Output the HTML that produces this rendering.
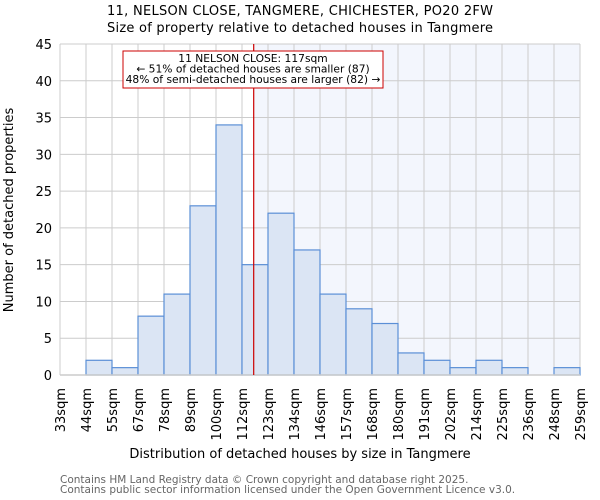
<!DOCTYPE html>
<html><head><meta charset="utf-8"><style>body{margin:0;background:#fff}svg{display:block;font-family:"DejaVu Sans","Liberation Sans",sans-serif}</style></head>
<body>
<svg id="c" width="600" height="500" xmlns="http://www.w3.org/2000/svg">
<text x="300" y="15" text-anchor="middle" font-size="13" textLength="386">11, NELSON CLOSE, TANGMERE, CHICHESTER, PO20 2FW</text>
<text x="300" y="32" text-anchor="middle" font-size="13" textLength="386">Size of property relative to detached houses in Tangmere</text>
<text x="300" y="458" text-anchor="middle" font-size="13">Distribution of detached houses by size in Tangmere</text>
<text transform="translate(13,210) rotate(-90)" text-anchor="middle" font-size="13">Number of detached properties</text>
<text x="60" y="483" font-size="10.5" fill="#666">Contains HM Land Registry data © Crown copyright and database right 2025.</text>
<text x="60" y="493" font-size="10.5" fill="#666">Contains public sector information licensed under the Open Government Licence v3.0.</text>
<g id="plot"></g>
</svg>
<script>
const binLabels=["33sqm","44sqm","55sqm","67sqm","78sqm","89sqm","100sqm","112sqm","123sqm","134sqm","146sqm","157sqm","168sqm","180sqm","191sqm","202sqm","214sqm","225sqm","236sqm","248sqm","259sqm"];
const counts=[0,2,1,8,11,23,34,15,22,17,11,9,7,3,2,1,2,1,0,1];
const yTicks=[0,5,10,15,20,25,30,35,40,45];
const propertyIndex=7.45;
const NS="http://www.w3.org/2000/svg";
const L=60,R=580,T=44,B=375,yMax=45;
const bw=(R-L)/counts.length;
const xs=i=>L+i*bw;
const ys=v=>B-(v/yMax)*(B-T);
const g=document.getElementById('plot');
function mk(t,a){const e=document.createElementNS(NS,t);for(const k in a)e.setAttribute(k,a[k]);g.appendChild(e);return e;}
const px=xs(propertyIndex);
let e=mk('rect',{x:px,y:T,width:R-px,height:B-T,fill:'#f3f6fd'});


yTicks.forEach(v=>{let l=mk('line',{x1:L,x2:R,y1:ys(v),y2:ys(v),stroke:'#ccc'});


let t=mk('text',{x:L-8,y:ys(v)+5,'text-anchor':'end','font-size':13});t.textContent=v;

});
binLabels.forEach((s,i)=>{let l=mk('line',{x1:xs(i),x2:xs(i),y1:T,y2:B,stroke:'#ccc'});


let t=mk('text',{transform:`translate(${xs(i)+5},388) rotate(-90)`,'text-anchor':'end','font-size':13});t.textContent=s;

});
counts.forEach((v,i)=>{if(v<=0)return;let r=mk('rect',{x:xs(i),y:ys(v),width:bw,height:B-ys(v),fill:'#dbe5f4',stroke:'#5b8fd6','stroke-width':1.2});

});
e=mk('line',{x1:L,x2:R,y1:B,y2:B,stroke:'#ccc','stroke-width':1.5});


e=mk('line',{x1:px,x2:px,y1:T,y2:B,stroke:'#cc0000','stroke-width':1.2});


e=mk('rect',{x:123,y:51,width:260,height:37,fill:'#fff',stroke:'#cc0000'});


["11 NELSON CLOSE: 117sqm","← 51% of detached houses are smaller (87)","48% of semi-detached houses are larger (82) →"].forEach((s,i)=>{let t=mk('text',{x:253,y:62+i*10.5,'text-anchor':'middle','font-size':10.7});t.textContent=s;

});
</script>
</body></html>
